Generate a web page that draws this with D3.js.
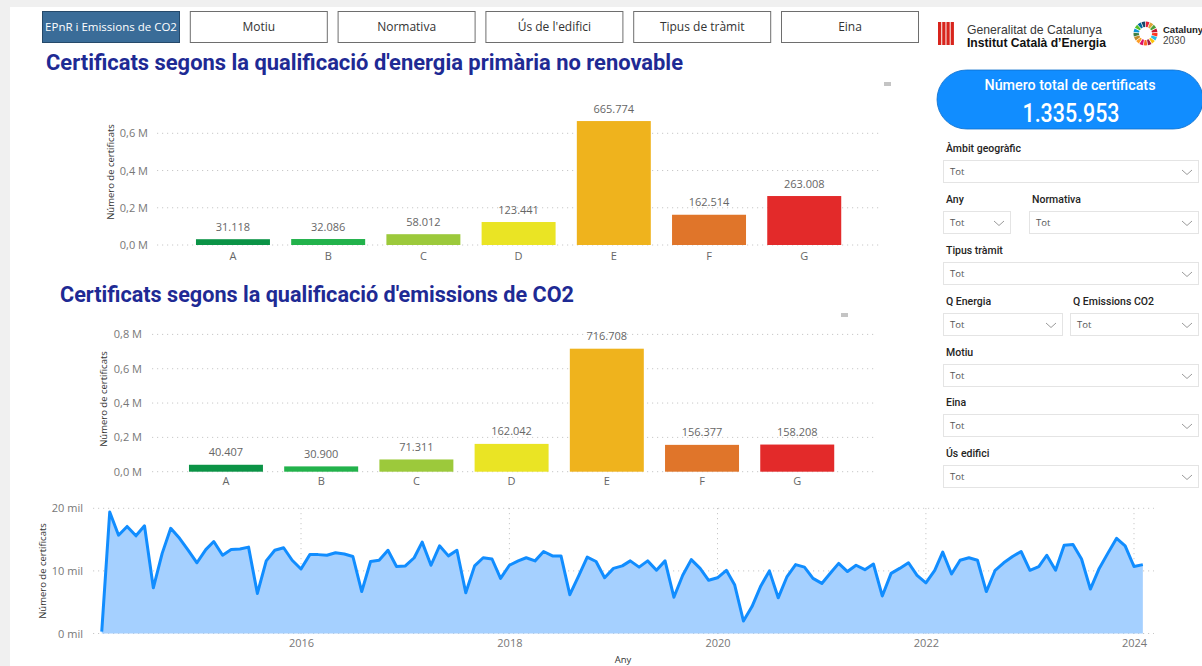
<!DOCTYPE html>
<html><head><meta charset="utf-8">
<script src="https://cdn.jsdelivr.net/npm/d3@7"></script>
<style>
html,body{margin:0;padding:0;background:#fff;}
svg{display:block;}
</style></head><body>
<svg id="c" width="1202" height="666"></svg>
<script>
// ---------------- DATA ----------------
const categories = ["A", "B", "C", "D", "E", "F", "G"];
const energyValues = [31118, 32086, 58012, 123441, 665774, 162514, 263008];
const co2Values = [40407, 30900, 71311, 162042, 716708, 156377, 158208];
const ratingColors = ["#0b9346", "#22b24b", "#9cc93b", "#eae424", "#efb31d", "#e0752a", "#e32a2a"];
const energyTicks = [0, 200000, 400000, 600000];
const co2Ticks = [0, 200000, 400000, 600000, 800000];

const monthlyStart = [2014, 1]; // year, month index (Feb 2014)
// thousands of certificates per month, Feb 2014 .. Feb 2024
const monthlyValues = [
  0.3, 19.4, 15.7, 17.1, 15.6, 17.2, 7.3, 12.8, 16.8, 15.2, 13.3,
  11.3, 13.4, 14.7, 12.5, 13.4, 13.5, 13.8, 6.4, 11.6, 13.3, 13.7, 11.7,
  10.3, 12.6, 12.6, 12.5, 12.9, 12.7, 12.3, 6.7, 11.5, 11.7, 13.3, 10.7,
  10.8, 12.1, 14.6, 10.9, 14.0, 12.4, 13.3, 6.5, 10.8, 12.1, 11.9, 8.8,
  10.9, 11.6, 12.1, 11.6, 13.1, 12.4, 12.4, 6.2, 9.2, 12.2, 11.5, 8.9,
  10.4, 10.8, 11.6, 10.6, 11.6, 10.1, 11.6, 5.8, 9.3, 11.8, 10.4, 8.5,
  8.9, 10.1, 7.8, 2.0, 4.3, 7.6, 10.0, 5.7, 9.1, 11.0, 10.6, 8.8,
  8.0, 9.7, 11.2, 9.9, 10.9, 10.2, 11.1, 6.0, 9.6, 10.4, 11.3, 9.3,
  8.1, 10.1, 13.0, 9.5, 11.7, 12.1, 11.7, 6.7, 10.1, 11.3, 12.3, 13.1,
  10.1, 10.7, 12.5, 10.1, 14.1, 14.2, 11.9, 7.1, 10.4, 12.8, 15.2, 14.0,
  10.7, 11.0
];
const yearTicks = [2016, 2018, 2020, 2022, 2024];
const lineTicks = [0, 10000, 20000];

const navButtons = ["EPnR i Emissions de CO2", "Motiu", "Normativa", "Ús de l'edifici", "Tipus de tràmit", "Eina"];
const kpiTitle = "Número total de certificats";
const kpiValue = 1335953;

// ---------------- SETUP ----------------
const loc = d3.formatLocale({decimal: ",", thousands: ".", grouping: [3], currency: ["", "€"]});
const fmtInt = loc.format(",d");
const fmtM = v => loc.format(".1f")(v / 1e6) + " M";
const svg = d3.select("#c");
const FONT = "'Segoe UI','Open Sans','Noto Sans',sans-serif";
const HEAD = "Roboto,'Noto Sans',sans-serif";
const ARIAL = "'Liberation Sans',Arial,sans-serif";

// frame
svg.append("rect").attr("x", 0).attr("y", 0).attr("width", 1202).attr("height", 666).attr("fill", "#fff");
svg.append("rect").attr("x", 0).attr("y", 0).attr("width", 1202).attr("height", 7).attr("fill", "#f0f0f0");
svg.append("rect").attr("x", 0).attr("y", 0).attr("width", 10).attr("height", 666).attr("fill", "#f0f0f0");

// nav buttons
navButtons.forEach((t, i) => {
  const x = 42 + i * 147.8, active = i === 0;
  svg.append("rect").attr("x", x + 0.5).attr("y", 11.5).attr("width", 137).attr("height", 31)
    .attr("fill", active ? "#3a6c98" : "#fff").attr("stroke", active ? "#25496a" : "#6e6e6e").attr("stroke-width", 1);
  svg.append("text").attr("x", x + 69).attr("y", 31).attr("text-anchor", "middle")
    .attr("font-family", FONT).attr("font-size", active ? 11.5 : 12)
    .attr("fill", active ? "#fff" : "#333").text(t);
});

// logos
const flag = svg.append("g");
flag.append("rect").attr("x", 938).attr("y", 22).attr("width", 16).attr("height", 23).attr("fill", "#f3c9c4");
[0, 1, 2, 3].forEach(k => flag.append("rect").attr("x", 938 + k * 4.3).attr("y", 22).attr("width", 3).attr("height", 23).attr("fill", "#d8241c"));
svg.append("text").attr("x", 967).attr("y", 33.5).attr("font-family", ARIAL)
  .attr("font-size", 13).attr("fill", "#3a3a3a").attr("textLength", 135).attr("lengthAdjust", "spacingAndGlyphs").text("Generalitat de Catalunya");
svg.append("text").attr("x", 967).attr("y", 46.5).attr("font-family", ARIAL)
  .attr("font-size", 13).attr("font-weight", "bold").attr("fill", "#111").attr("textLength", 139).attr("lengthAdjust", "spacingAndGlyphs").text("Institut Català d’Energia");
const sdg = ["#e5243b","#dda63a","#4c9f38","#c5192d","#ff3a21","#26bde2","#fcc30b","#a21942","#fd6925","#dd1367","#fd9d24","#bf8b2e","#3f7e44","#0a97d9","#56c02b","#00689d","#19486a"];
const arc = d3.arc().innerRadius(6.5).outerRadius(12);
const pie = d3.pie().value(1).sort(null)(sdg);
svg.append("g").attr("transform", "translate(1145.5,33.5)").selectAll("path").data(pie).join("path")
  .attr("d", d => arc({...d, padAngle: 0.05})).attr("fill", (d, i) => sdg[i]);
svg.append("text").attr("x", 1163).attr("y", 33).attr("font-family", ARIAL).attr("font-size", 9.5).attr("font-weight", "bold").attr("fill", "#222").text("Catalunya");
svg.append("text").attr("x", 1163).attr("y", 43.5).attr("font-family", ARIAL).attr("font-size", 10).attr("fill", "#444").text("2030");

// ---------------- BAR CHARTS ----------------
function barChart(o) {
  const g = svg.append("g");
  g.append("text").attr("x", o.titleX).attr("y", o.titleY).attr("font-family", HEAD).attr("font-weight", "bold")
    .attr("font-size", 22.5).attr("fill", "#1e2a94").attr("textLength", o.titleW).attr("lengthAdjust", "spacingAndGlyphs").text(o.title);
  const x = d3.scaleBand().domain(categories).range(o.xRange).paddingInner(0.223).paddingOuter(0.111);
  const y = d3.scaleLinear().domain([0, o.unitVal]).range([o.y0, o.y0 - o.unitPx]);
  // gridlines
  g.selectAll(".grid").data(o.ticks).join("line")
    .attr("x1", o.gridX[0]).attr("x2", o.gridX[1]).attr("y1", d => y(d)).attr("y2", d => y(d))
    .attr("stroke", "#c8c8c8").attr("stroke-width", 1).attr("stroke-dasharray", "1.2,3.8");
  // y axis
  const ya = g.append("g").attr("transform", `translate(${o.yLabelX},0)`)
    .call(d3.axisLeft(y).tickValues(o.ticks).tickFormat(fmtM).tickSize(0).tickPadding(0));
  ya.select(".domain").remove();
  ya.selectAll("text").attr("font-family", FONT).attr("font-size", 11).attr("fill", "#777");
  g.append("text").attr("transform", `translate(${o.yTitleX},${o.yTitleY}) rotate(-90)`).attr("text-anchor", "middle")
    .attr("font-family", FONT).attr("font-size", 9.5).attr("fill", "#333").text("Número de certificats");
  // bars
  g.selectAll(".bar").data(o.values).join("rect")
    .attr("x", (d, i) => x(categories[i])).attr("width", x.bandwidth())
    .attr("y", d => y(d)).attr("height", d => o.y0 - y(d))
    .attr("fill", (d, i) => ratingColors[i]);
  g.selectAll(".lbl").data(o.values).join("text")
    .attr("x", (d, i) => x(categories[i]) + x.bandwidth() / 2).attr("y", d => y(d) - 8.5)
    .attr("text-anchor", "middle").attr("font-family", FONT).attr("font-size", 11).attr("fill", "#666")
    .text(d => fmtInt(d));
  // x axis
  const xa = g.append("g").attr("transform", `translate(0,${o.y0})`)
    .call(d3.axisBottom(x).tickSize(0).tickPadding(o.xPad));
  xa.select(".domain").remove();
  xa.selectAll("text").attr("font-family", FONT).attr("font-size", 11).attr("fill", "#666");
  // small icon
  g.append("rect").attr("x", o.icon[0]).attr("y", o.icon[1]).attr("width", 7).attr("height", 4).attr("fill", "#c4c4c4");
}

barChart({
  title: "Certificats segons la qualificació d'energia primària no renovable",
  titleX: 46, titleY: 70, titleW: 637,
  values: energyValues, ticks: energyTicks,
  xRange: [185.4, 851.8], y0: 245, unitVal: 600000, unitPx: 111.7,
  gridX: [157, 881], yLabelX: 148, yTitleX: 114, yTitleY: 172, xPad: 7, icon: [884, 82]
});
barChart({
  title: "Certificats segons la qualificació d'emissions de CO2",
  titleX: 60, titleY: 302, titleW: 514,
  values: co2Values, ticks: co2Ticks,
  xRange: [178.4, 844.8], y0: 471.7, unitVal: 800000, unitPx: 137.3,
  gridX: [152, 874], yLabelX: 142, yTitleX: 107, yTitleY: 399, xPad: 6, icon: [841, 313]
});

// ---------------- LINE / AREA CHART ----------------
const series = monthlyValues.map((v, i) => ({date: new Date(monthlyStart[0], monthlyStart[1] + i, 1), value: v * 1000}));
const lx = d3.scaleTime().domain([new Date(2014, 0, 1), new Date(2024, 2, 1)]).range([92.9, 1151.1]);
const ly = d3.scaleLinear().domain([0, 20000]).range([633.5, 508.3]);
const lg = svg.append("g");
lg.selectAll(".hg").data(lineTicks).join("line")
  .attr("x1", 93).attr("x2", 1154).attr("y1", d => ly(d)).attr("y2", d => ly(d))
  .attr("stroke", "#c8c8c8").attr("stroke-dasharray", "1.2,3.8");
lg.selectAll(".vg").data(yearTicks).join("line")
  .attr("x1", d => lx(new Date(d, 0, 1))).attr("x2", d => lx(new Date(d, 0, 1)))
  .attr("y1", 508).attr("y2", 634)
  .attr("stroke", "#c8c8c8").attr("stroke-dasharray", "1.2,3.8");
lg.append("path").datum(series)
  .attr("d", d3.area().x(d => lx(d.date)).y0(ly(0)).y1(d => ly(d.value)))
  .attr("fill", "#a5d0ff");
lg.append("path").datum(series)
  .attr("d", d3.line().x(d => lx(d.date)).y(d => ly(d.value)))
  .attr("fill", "none").attr("stroke", "#118dff").attr("stroke-width", 3).attr("stroke-linejoin", "round");
const lya = lg.append("g").attr("transform", "translate(83,0)")
  .call(d3.axisLeft(ly).tickValues(lineTicks).tickFormat(d => (d / 1000) + " mil").tickSize(0).tickPadding(0));
lya.select(".domain").remove();
lya.selectAll("text").attr("font-family", FONT).attr("font-size", 11).attr("fill", "#777");
const lxa = lg.append("g").attr("transform", "translate(0,633.5)")
  .call(d3.axisBottom(lx).tickValues(yearTicks.map(y => new Date(y, 0, 1))).tickFormat(d3.timeFormat("%Y")).tickSize(0).tickPadding(6));
lxa.select(".domain").remove();
lxa.selectAll("text").attr("font-family", FONT).attr("font-size", 11).attr("fill", "#777");
lg.append("text").attr("transform", "translate(46,571) rotate(-90)").attr("text-anchor", "middle")
  .attr("font-family", FONT).attr("font-size", 9.5).attr("fill", "#333").text("Número de certificats");
lg.append("text").attr("x", 623).attr("y", 663).attr("text-anchor", "middle")
  .attr("font-family", FONT).attr("font-size", 9.5).attr("fill", "#333").text("Any");

// ---------------- RIGHT PANEL ----------------
svg.append("rect").attr("x", 937).attr("y", 70).attr("width", 266).attr("height", 59).attr("rx", 29.5)
  .attr("fill", "#118dff").attr("stroke", "#0d6fcc").attr("stroke-width", 0.8);
svg.append("text").attr("x", 1070).attr("y", 90).attr("text-anchor", "middle").attr("font-family", HEAD)
  .attr("font-weight", 500).attr("font-size", 14).attr("fill", "#fff")
  .attr("textLength", 171).attr("lengthAdjust", "spacingAndGlyphs").text(kpiTitle);
svg.append("text").attr("x", 1071).attr("y", 122).attr("text-anchor", "middle").attr("font-family", HEAD)
  .attr("font-weight", 500).attr("font-size", 25).attr("fill", "#fff")
  .attr("textLength", 97).attr("lengthAdjust", "spacingAndGlyphs").text(fmtInt(kpiValue));

const slicers = [
  {label: "Àmbit geogràfic", lx: 946, ly: 152, x: 943, y: 160, w: 255},
  {label: "Any", lx: 946, ly: 203, x: 943, y: 211, w: 67},
  {label: "Normativa", lx: 1032, ly: 203, x: 1029, y: 211, w: 169},
  {label: "Tipus tràmit", lx: 946, ly: 254, x: 943, y: 262, w: 255},
  {label: "Q Energia", lx: 946, ly: 305, x: 943, y: 313, w: 119},
  {label: "Q Emissions CO2", lx: 1073, ly: 305, x: 1070, y: 313, w: 128},
  {label: "Motiu", lx: 946, ly: 356, x: 943, y: 364, w: 255},
  {label: "Eina", lx: 946, ly: 406, x: 943, y: 414, w: 255},
  {label: "Ús edifici", lx: 946, ly: 457, x: 943, y: 465, w: 255}
];
slicers.forEach(s => {
  svg.append("text").attr("x", s.lx).attr("y", s.ly).attr("font-family", HEAD).attr("font-weight", 500)
    .attr("font-size", 10.5).attr("fill", "#252423").text(s.label);
  svg.append("rect").attr("x", s.x + 0.5).attr("y", s.y + 0.5).attr("width", s.w).attr("height", 22)
    .attr("fill", "#fff").attr("stroke", "#e4e4e4");
  svg.append("text").attr("x", s.x + 7).attr("y", s.y + 15).attr("font-family", FONT)
    .attr("font-size", 9.5).attr("fill", "#555").text("Tot");
  const cx = s.x + s.w - 11;
  svg.append("path").attr("d", `M${cx - 5},${s.y + 10} L${cx},${s.y + 14.5} L${cx + 5},${s.y + 10}`)
    .attr("fill", "none").attr("stroke", "#9a9a9a").attr("stroke-width", 1);
});
</script>
</body></html>
